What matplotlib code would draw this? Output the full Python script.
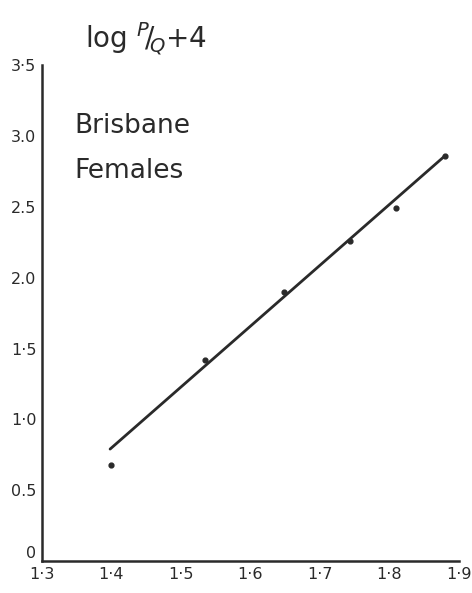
import matplotlib
matplotlib.use("Agg")
import matplotlib.pyplot as plt

# data
x_pts = [1.40, 1.535, 1.648, 1.743, 1.81, 1.88]
y_pts = [0.68, 1.42, 1.90, 2.26, 2.49, 2.86]

# fitted line end points
line_x = [1.398, 1.880]
line_y = [0.79, 2.86]

x_ticks = [1.3, 1.4, 1.5, 1.6, 1.7, 1.8, 1.9]
x_labels = ["1·3", "1·4", "1·5", "1·6", "1·7", "1·8", "1·9"]
y_ticks = [0, 0.5, 1.0, 1.5, 2.0, 2.5, 3.0, 3.5]
y_labels = ["0", "0.5", "1·0", "1·5", "2.0", "2.5", "3.0", "3·5"]

ink = "#2a2a2a"

fig = plt.figure(figsize=(4.72, 5.93), dpi=100)
ax = fig.add_axes([0.089, 0.054, 0.883, 0.836])

ax.plot(line_x, line_y, color=ink, linewidth=2.0, solid_capstyle="round")
ax.scatter(x_pts, y_pts, s=12, color=ink, zorder=5)

ax.set_xlim(1.3, 1.9)
ax.set_ylim(0, 3.5)
ax.set_xticks(x_ticks)
ax.set_xticklabels(x_labels)
ax.set_yticks(y_ticks)
ax.set_yticklabels(y_labels)
ax.tick_params(length=0, labelsize=11.5, colors=ink)
ax.tick_params(axis="x", pad=4)
ax.tick_params(axis="y", pad=4)

# keep the "0" clear of the "1·3" in the corner
ax.get_yticklabels()[0].set_va("bottom")

for side in ["top", "right"]:
    ax.spines[side].set_visible(False)
for side in ["left", "bottom"]:
    ax.spines[side].set_color(ink)
    ax.spines[side].set_linewidth(1.8)

# title written above the y axis
fig.text(0.18, 0.935, r"log $^{P}\!/\!_{Q}$+4", fontsize=20, color=ink,
         ha="left", va="center")

ax.text(1.347, 3.07, "Brisbane", fontsize=19, color=ink, ha="left", va="center")
ax.text(1.347, 2.75, "Females", fontsize=19, color=ink, ha="left", va="center")

fig.savefig("out.png", dpi=100, facecolor="white")
